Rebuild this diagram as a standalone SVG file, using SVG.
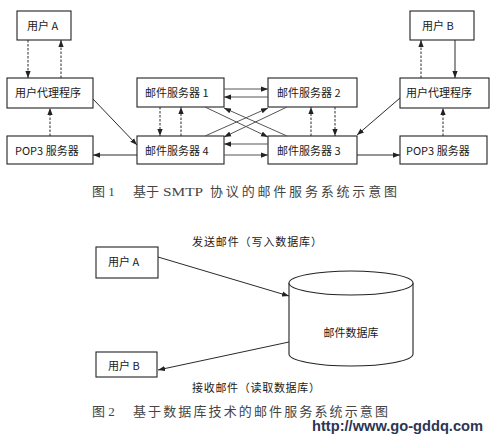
<svg xmlns="http://www.w3.org/2000/svg" width="492" height="435" viewBox="0 0 492 435">
<style>
.box{fill:#fff;stroke:#222;stroke-width:1.1}
.t{font-family:"Noto Sans CJK SC","Liberation Sans",sans-serif;font-size:11px;fill:#1a1a1a;dominant-baseline:central}
.c{font-family:"Liberation Serif","Noto Sans CJK SC",serif;font-size:13px;fill:#444;dominant-baseline:central}
.ln{stroke:#2a2a2a;stroke-width:1;fill:none;marker-end:url(#ah)}
.d{stroke-dasharray:2.5,1.5}
.g{stroke:#555}
</style>
<defs>
<marker id="ah" viewBox="0 0 8 6" refX="8" refY="3" markerWidth="7" markerHeight="6" orient="auto" markerUnits="userSpaceOnUse">
<path d="M0,0 L8,3 L0,6 z" fill="#222"/>
</marker>
</defs>
<rect width="492" height="435" fill="#fff"/>

<g id="userA"><rect class="box" x="17" y="11" width="54" height="29"/><text class="t" x="27" y="25">用户 A</text></g>
<g id="agentL"><rect class="box" x="7" y="78" width="86" height="30"/><text class="t" x="15" y="92">用户代理程序</text></g>
<g id="pop3L"><rect class="box" x="7" y="136" width="86" height="28"/><text class="t" x="15" y="150">POP3 服务器</text></g>
<g id="server1"><rect class="box" x="137" y="78" width="87" height="29"/><text class="t" x="145" y="92">邮件服务器 1</text></g>
<g id="server4"><rect class="box" x="137" y="136" width="87" height="28"/><text class="t" x="145" y="150">邮件服务器 4</text></g>
<g id="server2"><rect class="box" x="268" y="78" width="89" height="29"/><text class="t" x="277" y="92">邮件服务器 2</text></g>
<g id="server3"><rect class="box" x="268" y="136" width="89" height="28"/><text class="t" x="277" y="150">邮件服务器 3</text></g>
<g id="userB"><rect class="box" x="410" y="11" width="64" height="29"/><text class="t" x="422" y="25">用户 B</text></g>
<g id="agentR"><rect class="box" x="400" y="78" width="89" height="30"/><text class="t" x="406" y="92">用户代理程序</text></g>
<g id="pop3R"><rect class="box" x="400" y="136" width="87" height="28"/><text class="t" x="406" y="150">POP3 服务器</text></g>

<g id="userA2"><rect class="box" x="96" y="247" width="62" height="31"/><text class="t" x="108" y="261">用户 A</text></g>
<g id="userB2"><rect class="box" x="96" y="352" width="61" height="25"/><text class="t" x="108" y="365">用户 B</text></g>
<g id="maildb">
<path class="box" d="M289,283 L289,354 A62,12 0 0 0 413,354 L413,283"/>
<ellipse class="box" cx="351" cy="283" rx="62" ry="12"/>
<text class="t" x="351" y="332" text-anchor="middle">邮件数据库</text>
</g>

<g id="connectors">
<line class="ln d" x1="28" y1="40" x2="28" y2="78"/>
<line class="ln d" x1="61" y1="78" x2="61" y2="40"/>
<line class="ln d" x1="50" y1="136" x2="50" y2="108"/>
<line class="ln" x1="93" y1="99" x2="137" y2="145"/>
<line class="ln" x1="137" y1="155" x2="93" y2="155"/>
<line class="ln d" x1="160" y1="107" x2="160" y2="136"/>
<line class="ln d" x1="181" y1="136" x2="181" y2="107"/>
<line class="ln g" x1="224" y1="89" x2="268" y2="89"/>
<line class="ln g" x1="268" y1="97" x2="224" y2="97"/>
<line class="ln g" x1="268" y1="144" x2="224" y2="144"/>
<line class="ln g" x1="224" y1="155" x2="268" y2="155"/>
<line class="ln g" x1="205" y1="107" x2="268" y2="137"/>
<line class="ln g" x1="205" y1="136" x2="268" y2="108"/>
<line class="ln g" x1="287" y1="107" x2="224" y2="137"/>
<line class="ln g" x1="287" y1="136" x2="224" y2="108"/>
<line class="ln d" x1="311" y1="136" x2="311" y2="107"/>
<line class="ln d" x1="335" y1="107" x2="335" y2="136"/>
<line class="ln d" x1="421" y1="78" x2="421" y2="40"/>
<line class="ln" x1="455" y1="40" x2="455" y2="78"/>
<line class="ln d" x1="443" y1="136" x2="443" y2="108"/>
<line class="ln" x1="400" y1="98" x2="357" y2="135"/>
<line class="ln" x1="357" y1="155" x2="400" y2="155"/>
<line class="ln" x1="158" y1="257" x2="289" y2="296"/>
<line class="ln" x1="289" y1="342" x2="158" y2="370"/>
</g>

<text class="t" x="192" y="241" textLength="130" lengthAdjust="spacing">发送邮件（写入数据库）</text>
<text class="t" x="192" y="387" textLength="128" lengthAdjust="spacing">接收邮件（读取数据库）</text>

<text class="c" x="92" y="191">图 1</text>
<text class="c" x="133" y="191">基于</text>
<text class="c" x="163" y="191" textLength="40" lengthAdjust="spacingAndGlyphs">SMTP</text>
<text class="c" x="210" y="191" textLength="187" lengthAdjust="spacing">协议的邮件服务系统示意图</text>
<text class="c" x="92" y="411">图 2</text>
<text class="c" x="133" y="411" textLength="255" lengthAdjust="spacing">基于数据库技术的邮件服务系统示意图</text>
<text x="312" y="426" font-family="Liberation Sans,sans-serif" font-size="14" font-weight="bold" fill="#2c3552" dominant-baseline="central" textLength="171" lengthAdjust="spacingAndGlyphs">http://www.go-gddq.com</text>
</svg>
